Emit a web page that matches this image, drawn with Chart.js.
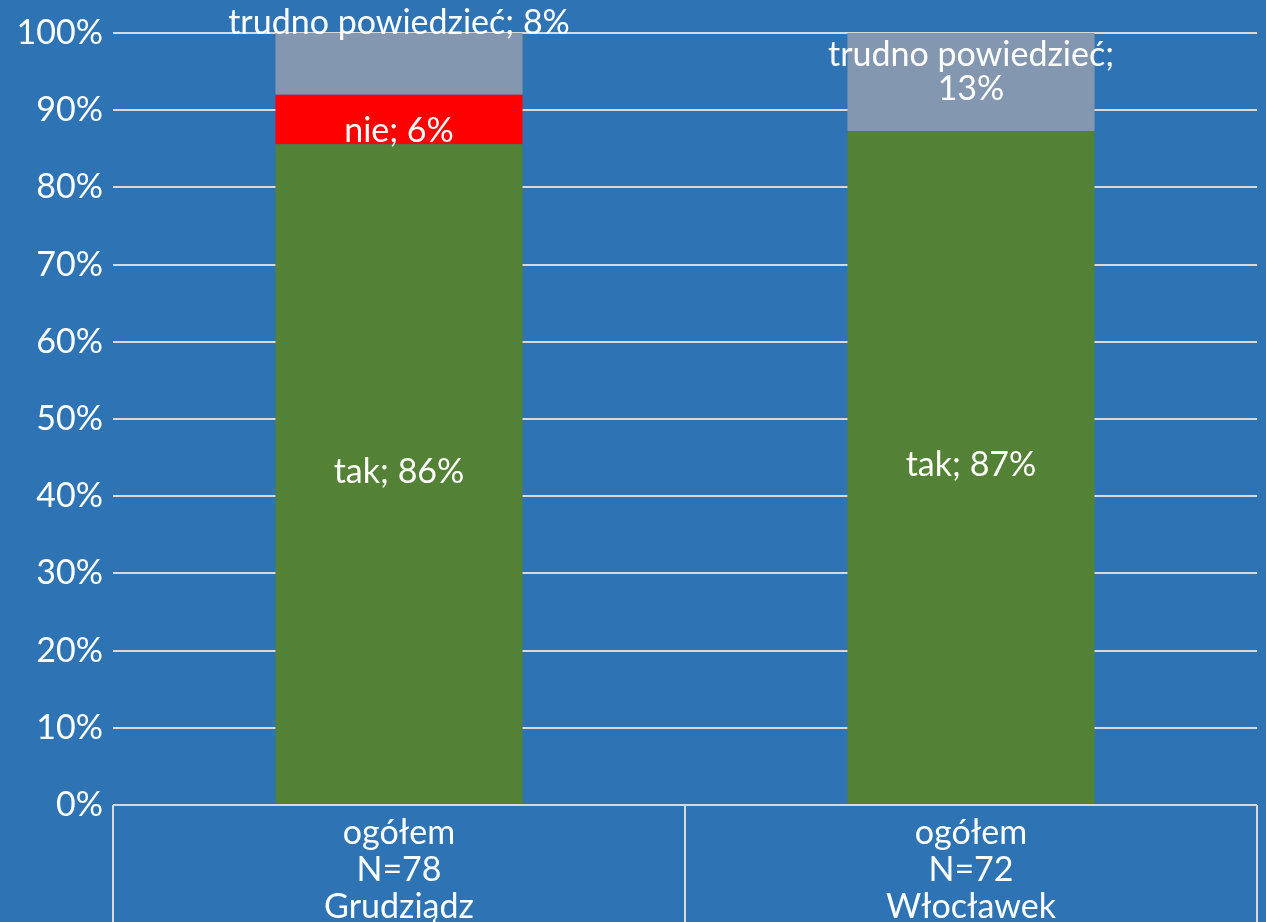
<!DOCTYPE html>
<html>
<head>
<meta charset="utf-8">
<script src="https://cdn.jsdelivr.net/npm/chart.js@4/dist/chart.umd.min.js"></script>
<style>
html,body{margin:0;padding:0;background:#2E74B5;overflow:hidden;}
#wrap{width:1266px;height:922px;}
</style>
</head>
<body>
<div id="wrap"><canvas id="c" width="1266" height="922"></canvas></div>
<script>
const categories = [["ogółem","N=78","Grudziądz"],["ogółem","N=72","Włocławek"]];
const seriesNames = ["tak","nie","trudno powiedzieć"];
const takValues = [85.6, 87.3];
const nieValues = [6.4, 0];
const trudnoValues = [8.0, 12.7];
const yTicks = [0,10,20,30,40,50,60,70,80,90,100];

const FONT = "Lato";
const colors = ["#538135","#FF0000","#8497B0"];
// label style: vertical nudge (px) and line wrapping per series/category
const labelNudge = [[-2,-2],[12,0],[-41,-10]];
const labelWrap = [[false,false],[false,false],[false,true]];

const dataLabelPlugin = {
  id:'dl',
  afterDatasetsDraw(chart){
    const ctx = chart.ctx;
    ctx.save();
    ctx.fillStyle = '#FFFFFF';
    ctx.font = '34px ' + FONT;
    ctx.textAlign = 'center';
    ctx.textBaseline = 'middle';
    chart.data.datasets.forEach((ds, di) => {
      const meta = chart.getDatasetMeta(di);
      meta.data.forEach((bar, i) => {
        const v = ds.data[i];
        if (!v) return;
        const cy = (bar.y + bar.base) / 2 + labelNudge[di][i];
        const txt = ds.label + '; ' + Math.round(v) + '%';
        if (labelWrap[di][i]) {
          const lines = [ds.label + ';', Math.round(v) + '%'];
          const lh = 34;
          lines.forEach((l, k) => ctx.fillText(l, bar.x, cy + (k - (lines.length-1)/2) * lh));
        } else {
          ctx.fillText(txt, bar.x, cy);
        }
      });
    });
    ctx.restore();
  }
};

const separatorPlugin = {
  id:'sep',
  afterDraw(chart){
    const xs = chart.scales.x;
    const ctx = chart.ctx;
    const n = xs.ticks.length;
    const half = (xs.getPixelForValue(1) - xs.getPixelForValue(0)) / 2;
    ctx.save();
    ctx.strokeStyle = '#D9D9D9';
    ctx.lineWidth = 2;
    for (let i = 0; i <= n; i++) {
      const x = Math.round(xs.getPixelForValue(0) - half + i * 2 * half);
      ctx.beginPath();
      ctx.moveTo(x, chart.chartArea.bottom);
      ctx.lineTo(x, chart.height);
      ctx.stroke();
    }
    ctx.restore();
  }
};

new Chart(document.getElementById('c'), {
  type:'bar',
  data:{
    labels: categories,
    datasets:[
      {label: seriesNames[0], data: takValues, backgroundColor: colors[0]},
      {label: seriesNames[1], data: nieValues, backgroundColor: colors[1]},
      {label: seriesNames[2], data: trudnoValues, backgroundColor: colors[2]}
    ]
  },
  options:{
    responsive:false,
    devicePixelRatio:1,
    animation:false,
    layout:{padding:{top:33,right:9,left:0,bottom:0}},
    datasets:{bar:{categoryPercentage:1.0, barPercentage:0.432}},
    plugins:{legend:{display:false}, tooltip:{enabled:false}},
    scales:{
      x:{
        stacked:true,
        grid:{display:false},
        border:{display:false},
        ticks:{color:'#FFFFFF', font:{family:FONT, size:34, lineHeight:1.1}, padding:1, maxRotation:0, autoSkip:false},
        afterFit(s){ s.height = 117; }
      },
      y:{
        stacked:true,
        min:0, max:100,
        afterBuildTicks(s){ s.ticks = yTicks.map(v => ({value:v})); },
        grid:{color:'#D9D9D9', lineWidth:2, drawTicks:false},
        border:{display:false},
        ticks:{color:'#FFFFFF', font:{family:FONT, size:34}, padding:10, callback:v => v + '%'},
        afterFit(s){ s.width = 113; }
      }
    }
  },
  plugins:[dataLabelPlugin, separatorPlugin]
});
</script>
</body>
</html>
